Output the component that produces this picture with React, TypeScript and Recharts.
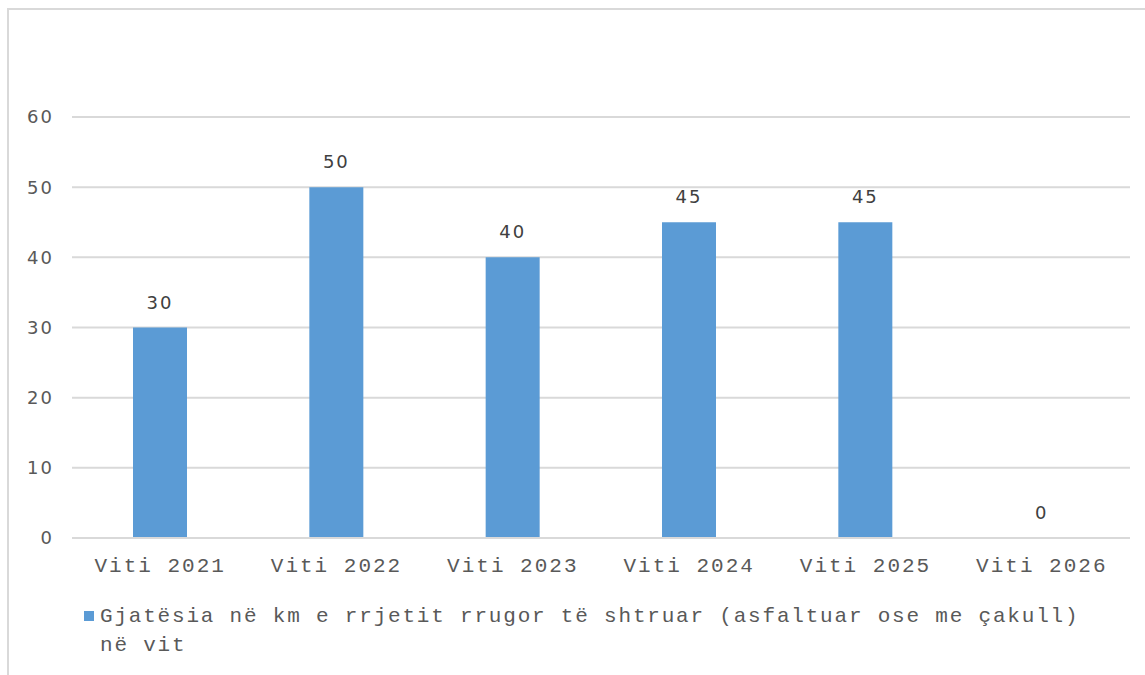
import { Bar, BarChart, CartesianGrid, LabelList, Legend, XAxis, YAxis } from "recharts";

const years = ["Viti 2021", "Viti 2022", "Viti 2023", "Viti 2024", "Viti 2025", "Viti 2026"];
const lengthKm = [30, 50, 40, 45, 45, 0];
const yTicks = [0, 10, 20, 30, 40, 50, 60];
const seriesName = "Gjatësia në km e rrjetit rrugor të shtruar (asfaltuar ose me çakull) në vit";

const data = years.map((year, i) => ({ year, km: lengthKm[i] }));

const mono = "'Liberation Mono', 'Courier New', monospace";
const sans = "'DejaVu Sans', Verdana, sans-serif";

function LegendBox() {
  return (
    <div style={{ display: "flex", alignItems: "flex-start", fontFamily: mono, fontSize: 21, letterSpacing: 1.8, color: "#595959", lineHeight: "29px" }}>
      <span style={{ width: 10, height: 10, background: "#5b9bd5", marginTop: 9, marginRight: 6, flex: "none" }} />
      <span style={{ width: 1000 }}>{seriesName}</span>
    </div>
  );
}

// label drawn by hand so that the zero-height bar still gets its "0"
function ValueLabel(props: any) {
  const { x, y, width, value } = props;
  return (
    <text
      x={Number(x) + Number(width) / 2}
      y={Number(y) - 19}
      textAnchor="middle"
      style={{ fontFamily: sans, fontSize: 18, letterSpacing: 2, fill: "#404040" }}
    >
      {value}
    </text>
  );
}

export default function App() {
  return (
    <div style={{ position: "absolute", left: 0, top: 0, width: 1145, height: 675, background: "#fff" }}>
      <div style={{ position: "absolute", left: 7, top: 8, width: 1200, height: 700, borderTop: "2px solid #d9d9d9", borderLeft: "2px solid #d9d9d9" }} />
      <div style={{ position: "absolute", left: 0, top: 0 }}>
        <BarChart width={1145} height={675} data={data} margin={{ top: 117, right: 15, left: 0, bottom: 0 }}>
          <CartesianGrid vertical={false} stroke="#d9d9d9" strokeWidth={2} />
          <XAxis
            dataKey="year"
            height={42}
            tickSize={0}
            tickMargin={19}
            axisLine={{ stroke: "#d9d9d9", strokeWidth: 2 }}
            tick={{ fontFamily: mono, fontSize: 21, letterSpacing: 2, fill: "#595959" }}
          />
          <YAxis
            width={72}
            domain={[0, 60]}
            ticks={yTicks}
            tickSize={0}
            tickMargin={18}
            axisLine={false}
            tick={{ fontFamily: sans, fontSize: 18, letterSpacing: 2, fill: "#595959" }}
          />
          <Legend
            verticalAlign="bottom"
            height={95}
            wrapperStyle={{ top: 602, left: 84, width: 1050 }}
            content={() => <LegendBox />}
          />
          <Bar dataKey="km" name={seriesName} fill="#5b9bd5" barSize={54} minPointSize={0.01} isAnimationActive={false}>
            <LabelList dataKey="km" content={<ValueLabel />} />
          </Bar>
        </BarChart>
      </div>
    </div>
  );
}
